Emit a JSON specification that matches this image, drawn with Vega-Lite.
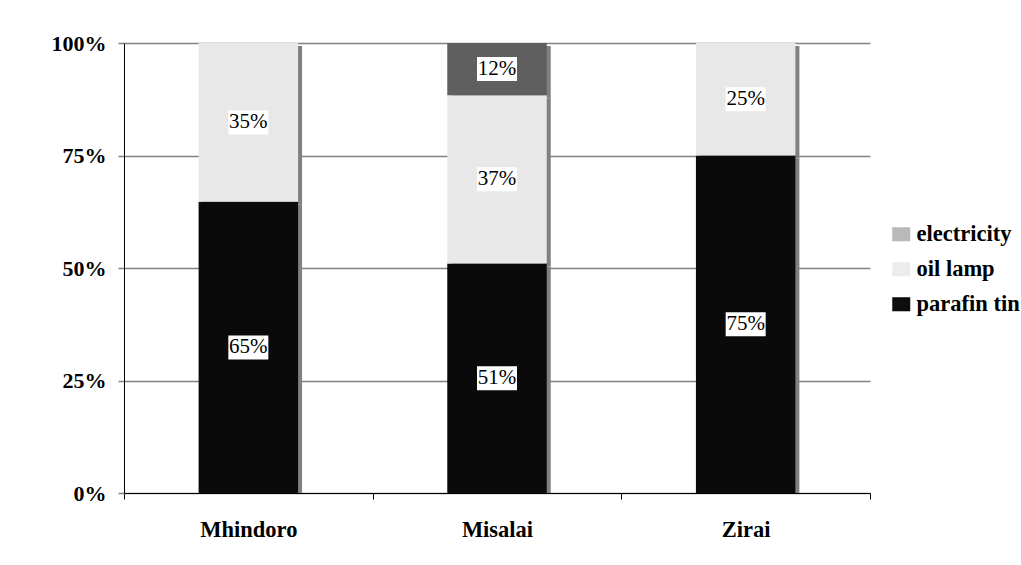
{
  "$schema": "https://vega.github.io/schema/vega-lite/v6.json",
  "width": 746,
  "height": 450,
  "autosize": {"type": "none"},
  "padding": {"left": 124, "top": 43, "right": 151, "bottom": 72},
  "background": "white",
  "config": {
    "view": {"stroke": null},
    "font": "Liberation Serif",
    "text": {"font": "Liberation Serif"},
    "axisY": {
      "grid": true,
      "gridColor": "#808080",
      "gridWidth": 1.5,
      "domainColor": "#000000",
      "domainWidth": 1,
      "tickColor": "#808080",
      "tickWidth": 1.5,
      "tickSize": 6,
      "labelPadding": 12,
      "labelFont": "Liberation Serif",
      "labelFontSize": 22,
      "labelFontWeight": "bold",
      "labelColor": "#000000",
      "title": null
    },
    "legend": {
      "orient": "none",
      "legendX": 766,
      "legendY": 180,
      "title": null,
      "padding": 0,
      "labelFont": "Liberation Serif",
      "labelFontSize": 22.5,
      "labelFontWeight": "bold",
      "labelColor": "#000000",
      "symbolSize": 324,
      "symbolStrokeWidth": 0,
      "labelOffset": 4,
      "rowPadding": 12
    }
  },
  "data": {
    "values": [
      {"village": "Mhindoro", "source": "parafin tin", "pct": 0.647},
      {"village": "Mhindoro", "source": "oil lamp", "pct": 0.353},
      {"village": "Misalai", "source": "parafin tin", "pct": 0.51},
      {"village": "Misalai", "source": "oil lamp", "pct": 0.374},
      {"village": "Misalai", "source": "electricity", "pct": 0.116},
      {"village": "Zirai", "source": "parafin tin", "pct": 0.75},
      {"village": "Zirai", "source": "oil lamp", "pct": 0.25}
    ]
  },
  "encoding": {
    "x": {
      "field": "village",
      "type": "nominal",
      "sort": ["Mhindoro", "Misalai", "Zirai"],
      "scale": {"paddingInner": 0, "paddingOuter": 0},
      "axis": {
        "title": null,
        "labelAngle": 0,
        "tickBand": "extent",
        "grid": false,
        "domainColor": "#000000",
        "tickColor": "#000000",
        "tickSize": 6,
        "labelPadding": 19,
        "labelFont": "Liberation Serif",
        "labelFontSize": 22.5,
        "labelFontWeight": "bold",
        "labelColor": "#000000"
      }
    }
  },
  "layer": [
    {
      "mark": {"type": "point", "shape": "M-1,-0.78H1V0.78H-1Z", "filled": true, "size": 100, "opacity": 1, "clip": true},
      "encoding": {
        "y": {
          "datum": 0,
          "type": "quantitative",
          "scale": {"domain": [0, 1], "nice": false},
          "axis": {"values": [0, 0.25, 0.5, 0.75, 1], "format": ".0%", "title": null}
        },
        "fill": {
          "field": "source",
          "type": "nominal",
          "scale": {"domain": ["electricity", "oil lamp", "parafin tin"], "range": ["#b9b9b9", "#ececec", "#0d0d0d"]},
          "legend": {
            "symbolType": "M-1,-0.78H1V0.78H-1Z",
            "labelFont": "Liberation Serif",
            "labelFontWeight": "bold",
            "labelFontSize": 22.5
          }
        }
      }
    },
    {
      "mark": {"type": "bar", "width": {"band": 0.4}, "fill": "#808080", "xOffset": 4, "yOffset": 3, "clip": true},
      "encoding": {
        "y": {"field": "pct", "type": "quantitative", "stack": "zero", "axis": {"values": [0, 0.25, 0.5, 0.75, 1], "format": ".0%", "title": null}},
        "order": {"field": "source", "sort": "descending"}
      }
    },
    {
      "mark": {"type": "bar", "width": {"band": 0.4}},
      "encoding": {
        "y": {"field": "pct", "type": "quantitative", "stack": "zero", "axis": {"values": [0, 0.25, 0.5, 0.75, 1], "format": ".0%", "title": null}},
        "color": {
          "field": "source",
          "type": "nominal",
          "scale": {"domain": ["electricity", "oil lamp", "parafin tin"], "range": ["#5f5f5f", "#e8e8e8", "#0a0a0a"]},
          "legend": null
        },
        "order": {"field": "source", "sort": "descending"}
      }
    },
    {
      "transform": [
        {"stack": "pct", "groupby": ["village"], "sort": [{"field": "source", "order": "descending"}], "as": ["y0", "y1"]},
        {"calculate": "(datum.y0 + datum.y1) / 2", "as": "ymid"}
      ],
      "layer": [
        {
          "mark": {"type": "point", "shape": "M-1,-0.6H1V0.6H-1Z", "size": 1600, "filled": true, "fill": "#ffffff", "opacity": 1, "strokeWidth": 0},
          "encoding": {"y": {"field": "ymid", "type": "quantitative", "axis": {"values": [0, 0.25, 0.5, 0.75, 1], "format": ".0%", "title": null}}}
        },
        {
          "mark": {"type": "text", "font": "Liberation Serif", "fontSize": 21, "color": "#000000", "baseline": "middle", "align": "center"},
          "encoding": {
            "y": {"field": "ymid", "type": "quantitative", "axis": {"values": [0, 0.25, 0.5, 0.75, 1], "format": ".0%", "title": null}},
            "text": {"field": "pct", "type": "quantitative", "format": ".0%"}
          }
        }
      ]
    }
  ]
}
